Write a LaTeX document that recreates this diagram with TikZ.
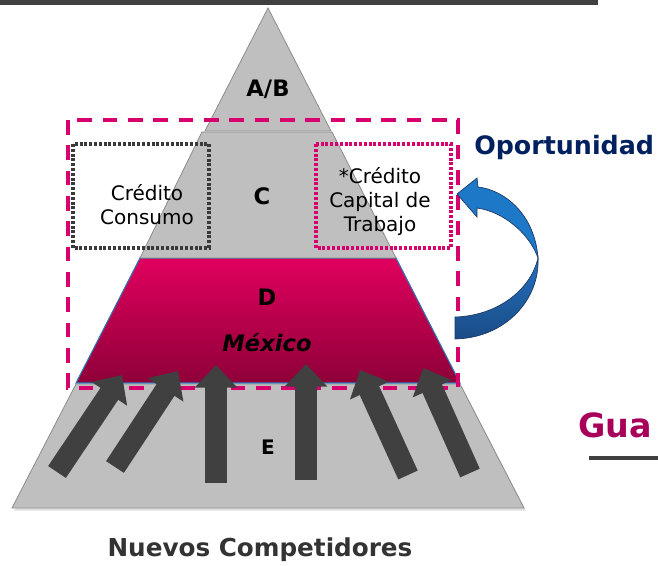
\documentclass[tikz,border=0pt]{standalone}
\usepackage{fontspec}
\setmainfont{DejaVu Sans}
\usetikzlibrary{arrows.meta, shadows}
\definecolor{pyrgray}{HTML}{BFBFBF}
\definecolor{pyredge}{HTML}{8C8C8C}
\definecolor{dtop}{HTML}{E1005E}
\definecolor{dbot}{HTML}{8E0038}
\definecolor{dedge}{HTML}{2E75B6}
\definecolor{dashpink}{HTML}{D8006C}
\definecolor{dotgray}{HTML}{3A3A3A}
\definecolor{oportnavy}{HTML}{002060}
\definecolor{arrowgray}{HTML}{404040}
\definecolor{curvelight}{HTML}{1E78C8}
\definecolor{curvemid}{HTML}{2370BE}
\definecolor{curvedark}{HTML}{1A4C86}
\definecolor{curveedge}{HTML}{1F3864}
\definecolor{guamag}{HTML}{A8005A}

\begin{document}
\begin{tikzpicture}[x=0.75pt, y=-0.75pt,
    layerbox/.style={fill=pyrgray, draw=pyredge, line width=0.6pt},
    layertext/.style={font=\fontsize{17}{20}\selectfont\bfseries, inner sep=0pt},
    boxtext/.style={font=\fontsize{15}{18}\selectfont, inner sep=0pt},
    bigarrow/.style={draw=arrowgray, line width=16pt, -{Triangle[width=31pt, length=17pt]}},
    dashframe/.style={draw=dashpink, line width=2.6pt, dash pattern=on 11pt off 8pt},
    dotframe/.style={line width=2.3pt, dash pattern=on 2.2pt off 1.4pt}]
    \useasboundingbox (0,0) rectangle (658,566);

    % top bar
    \fill[arrowgray] (0,0) rectangle (598,5);

    % pyramid
    \coordinate (apex) at (268,8);
    \draw[layerbox, drop shadow={shadow xshift=1.5pt, shadow yshift=-2pt, opacity=0.25}]
        (76,384) -- (460,384) -- (524,508) -- (12,508) -- cycle;
    \draw[top color=dtop, bottom color=dbot, draw=dedge, line width=0.8pt]
        (140,258) -- (396,258) -- (460,383) -- (76,383) -- cycle;
    \draw[layerbox] (202,132) -- (332,132) -- (396,258) -- (140,258) -- cycle;
    \draw[layerbox] (apex) -- (331,131) -- (205,131) -- cycle;

    % layer labels
    \node[layertext, anchor=base] (ab) at (268,97) {A/B};
    \node[layertext, anchor=base] (c) at (262,205) {C};
    \node[layertext, anchor=base] (d) at (267,306) {D};
    \node[layertext, anchor=base, font=\fontsize{17}{20}\selectfont\bfseries\itshape] (mexico) at (267,352) {México};
    \node[layertext, anchor=base, font=\fontsize{15}{18}\selectfont\bfseries] (e) at (268,455) {E};

    % credit boxes
    \draw[dotframe, draw=dotgray] (73,144) rectangle (209,248);
    \draw[dotframe, draw=dashpink] (316,144) rectangle (451,248);
    \node[boxtext, anchor=base] (consumo1) at (147,201) {Crédito};
    \node[boxtext, anchor=base] (consumo2) at (147,225) {Consumo};
    \node[boxtext, anchor=base] (capital1) at (380,184) {*Crédito};
    \node[boxtext, anchor=base] (capital2) at (380,208) {Capital de};
    \node[boxtext, anchor=base] (capital3) at (380,232) {Trabajo};

    % market frame
    \draw[dashframe] (68,120) rectangle (458,388);

    % arrows of the new competitors
    \foreach \tx/\ty/\hx/\hy [count=\i] in {57/472/122/375, 115/467/178/371, 216/483/216/365,
        306/480/306/364, 408/475/360/370, 470/473/423/368}{
      \coordinate (tail\i) at (\tx,\ty);
      \coordinate (head\i) at (\hx,\hy);
      \draw[bigarrow] (tail\i) -- (head\i);
    }

    % curved arrow
    \draw[top color=curvemid, bottom color=curvedark, draw=curveedge, line width=0.5pt]
        (538,258) .. controls (540,300) and (505,338) .. (455,339)
        -- (455,317) .. controls (495,316) and (530,292) .. (538,258) -- cycle;
    \draw[fill=curvelight, draw=curveedge, line width=0.5pt]
        (478,187) .. controls (505,190) and (535,215) .. (538,258)
        .. controls (530,235) and (505,212) .. (477,208)
        -- (477,217) -- (457,194) -- (477,178) -- cycle;

    \node[anchor=base west, inner sep=0pt, text=oportnavy, font=\fontsize{19}{22}\selectfont\bfseries] (oport) at (474,155) {Oportunidad};
    \node[anchor=base, inner sep=0pt, text=arrowgray!80!black, font=\fontsize{18.5}{22}\selectfont\bfseries] (nuevos) at (260,557) {Nuevos Competidores};

    % right side heading
    \node[anchor=base west, inner sep=0pt, text=guamag, font=\fontsize{25}{28}\selectfont\bfseries] (gua) at (578,438) {Gua};
    \coordinate (gual) at (589,458);
    \coordinate (guar) at (658,458);
    \draw[arrowgray, line width=3pt] (gual) -- (guar);
\end{tikzpicture}
\end{document}
